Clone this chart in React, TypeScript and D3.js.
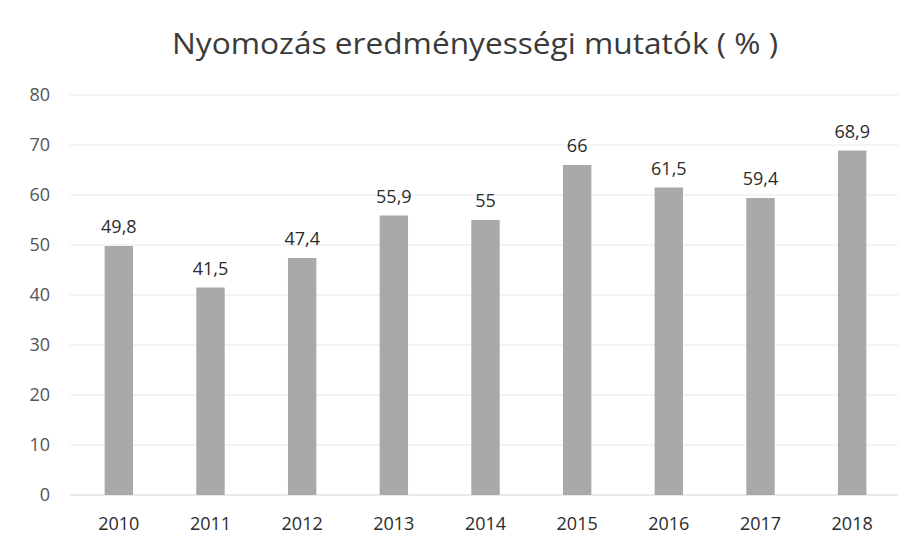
import React from 'react';
import * as d3 from 'd3';

const years = ['2010', '2011', '2012', '2013', '2014', '2015', '2016', '2017', '2018'];
const values = [49.8, 41.5, 47.4, 55.9, 55, 66, 61.5, 59.4, 68.9];
const labels = ['49,8', '41,5', '47,4', '55,9', '55', '66', '61,5', '59,4', '68,9'];
const yTicks = [0, 10, 20, 30, 40, 50, 60, 70, 80];

const W = 919;
const H = 548;
const font = '"Open Sans", "Noto Sans", sans-serif';

const App = () => {
  const x = d3.scaleBand().domain(years).range([73, 898]).paddingInner(0.69).paddingOuter(0.345);
  const y = d3.scaleLinear().domain([0, 80]).range([495, 95]);

  return (
    <svg width={W} height={H} style={{ position: 'absolute', left: 0, top: 0, background: '#fff' }}>
      <text x={475} y={54} textAnchor="middle" fontFamily={font} fontSize={29} fill="#3a3a3a"
        textLength={606} lengthAdjust="spacingAndGlyphs">
        Nyomozás eredményességi mutatók ( % )
      </text>
      {yTicks.map(t => (
        <g key={t}>
          <line x1={70} x2={898} y1={y(t)} y2={y(t)} stroke={t === 0 ? '#d4d4d4' : '#e8e8e8'} strokeWidth={1} />
          <text x={50} y={y(t)} dy="0.35em" textAnchor="end" fontFamily={font} fontSize={18} fill="#555">{t}</text>
        </g>
      ))}
      {years.map((yr, i) => (
        <g key={yr}>
          <rect x={x(yr)} y={y(values[i])} width={x.bandwidth()} height={y(0) - y(values[i])} fill="#a9a9a9" />
          <text x={(x(yr) as number) + x.bandwidth() / 2} y={y(values[i]) - 13} textAnchor="middle"
            fontFamily={font} fontSize={18} fill="#2b2b2b">{labels[i]}</text>
          <text x={(x(yr) as number) + x.bandwidth() / 2} y={530} textAnchor="middle"
            fontFamily={font} fontSize={18} fill="#2b2b2b">{yr}</text>
        </g>
      ))}
    </svg>
  );
};

export default App;
